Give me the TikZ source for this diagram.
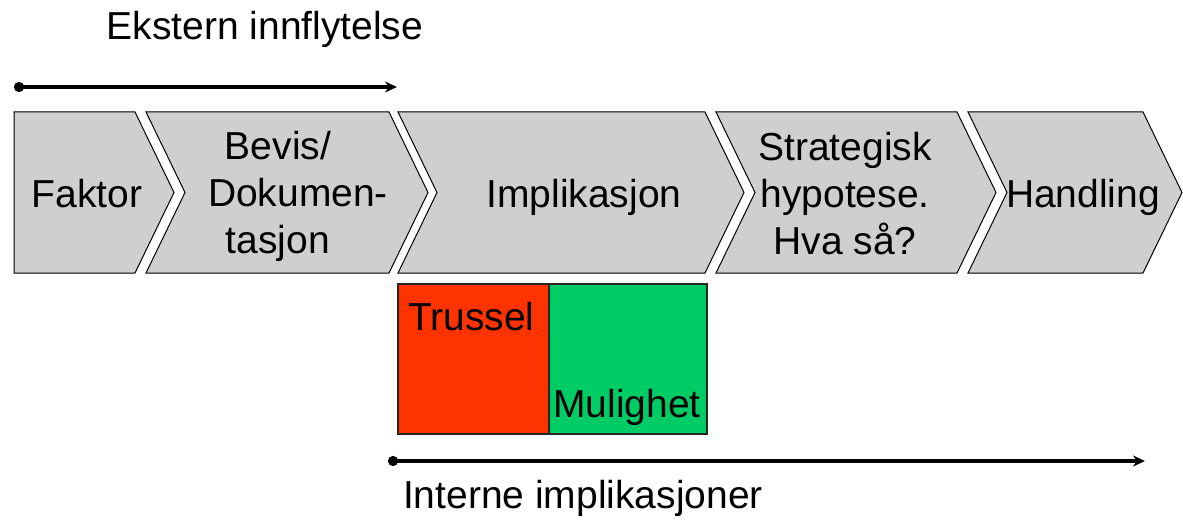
\documentclass[tikz,border=0pt]{standalone}
\usepackage{fontspec}
\setmainfont{Liberation Sans}
\usepackage{xcolor}
\usetikzlibrary{arrows.meta}

\definecolor{chevgray}{HTML}{CFCFCF}
\definecolor{trusselred}{HTML}{FF3300}
\definecolor{mulighetgreen}{HTML}{00CC66}

\tikzset{
  chevron/.style={draw=black, fill=chevgray, line width=1pt},
  steptext/.style={font=\fontsize{39}{47}\selectfont, align=center, inner sep=0pt, anchor=base},
  bigtext/.style={font=\fontsize{39}{47}\selectfont, inner sep=0pt, anchor=base},
  timeline/.style={line width=3.4pt, {Circle[length=10pt]}-{Stealth[length=12pt,width=11pt]}},
  swotbox/.style={draw=black!85, line width=1.2pt, inner sep=0pt, minimum height=150pt}
}

\begin{document}
\begin{tikzpicture}[x=1pt, y=-1pt]
  \useasboundingbox (0,0) rectangle (1183,524);

  % chain of steps
  \draw[chevron] (14,112) -- (135,112) -- (174,192.5) -- (135,273) -- (14,273) -- cycle;
  \draw[chevron] (146,112) -- (389,112) -- (428,192.5) -- (389,273) -- (146,273) -- (185,192.5) -- cycle;
  \draw[chevron] (398,112) -- (705,112) -- (744,192.5) -- (705,273) -- (398,273) -- (437,192.5) -- cycle;
  \draw[chevron] (716,112) -- (957,112) -- (996,192.5) -- (957,273) -- (716,273) -- (755,192.5) -- cycle;
  \draw[chevron] (968,112) -- (1143,112) -- (1182,192.5) -- (1143,273) -- (968,273) -- (1007,192.5) -- cycle;

  % multi-line nodes sit on their last baseline
  \node[steptext] (faktor)     at (87,207)   {Faktor};
  \node[steptext] (bevis)      at (278,253)  {Bevis/\\\hspace*{40pt}Dokumen-\\tasjon};
  \node[steptext] (implik)     at (584,207)  {Implikasjon};
  \node[steptext] (hypotese)   at (845,254)  {Strategisk\\hypotese.\\Hva så?};
  \node[steptext] (handling)   at (1083,207) {Handling};

  % threat / opportunity
  \node[swotbox, fill=trusselred, minimum width=151pt]    (trussel)  at (473.5,359) {};
  \node[swotbox, fill=mulighetgreen, minimum width=158pt] (mulighet) at (628,359)   {};
  \node[bigtext, anchor=base west] (trusselTxt)  at (408,330) {Trussel};
  \node[bigtext, anchor=base west] (mulighetTxt) at (553,417) {Mulighet};

  % external / internal
  \node[bigtext] (ekstern) at (265,40)  {Ekstern innflytelse};
  \node[bigtext] (intern)  at (583,508) {Interne implikasjoner};
  \coordinate (extStart) at (14,87);
  \coordinate (extEnd)   at (397,87);
  \coordinate (intStart) at (388,461);
  \coordinate (intEnd)   at (1145,461);
  \draw[timeline] (extStart) -- (extEnd);
  \draw[timeline] (intStart) -- (intEnd);
\end{tikzpicture}
\end{document}
